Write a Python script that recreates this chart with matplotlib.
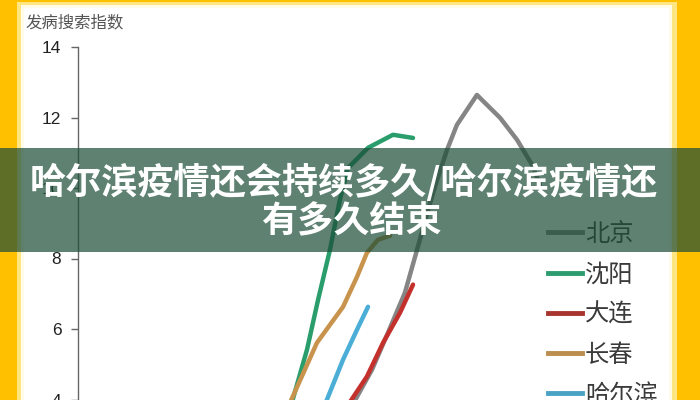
import matplotlib
matplotlib.use("Agg")
import matplotlib.pyplot as plt
from matplotlib.patches import Rectangle
from matplotlib.lines import Line2D

plt.rcParams['font.family'] = ['Noto Sans CJK SC', 'DejaVu Sans']

# ---- data (x = day index, y = search index) ----
cities = ['北京', '沈阳', '大连', '长春', '哈尔滨']
colors = ['#858585', '#2a9d6c', '#c4302c', '#c8934c', '#4aaed6']
legend_colors = ['#858585', '#2e9c6e', '#a8342e', '#bb8d4e', '#4aa3c4']

bj_x = [12.09, 13.07, 13.78, 14.53, 15.07, 15.56, 15.96, 16.40, 16.84, 17.73, 18.76, 19.51, 20.18, 20.53]
bj_y = [3.72, 4.85, 5.90, 7.03, 8.25, 9.38, 10.23, 11.08, 11.79, 12.64, 11.99, 11.37, 10.66, 10.09]

sy_x = [9.42, 10.18, 10.67, 11.20, 11.64, 12.00, 12.89, 14.00, 14.89]
sy_y = [3.72, 5.42, 6.83, 8.25, 9.67, 10.57, 11.14, 11.51, 11.42]

dl_x = [11.87, 12.84, 13.56, 14.31, 14.89]
dl_y = [3.72, 4.65, 5.61, 6.46, 7.26]

cc_x = [9.29, 10.62, 11.78, 12.40, 12.84, 13.33, 13.87]
cc_y = [3.72, 5.61, 6.63, 7.48, 8.16, 8.53, 8.65]

heb_x = [10.89, 11.78, 12.40, 12.89]
heb_y = [3.72, 5.13, 5.98, 6.63]

series_x = [bj_x, sy_x, dl_x, cc_x, heb_x]
series_y = [bj_y, sy_y, dl_y, cc_y, heb_y]

y_ticks = [4, 6, 8, 10, 12, 14]
y_label = '发病搜索指数'
title_lines = ['哈尔滨疫情还会持续多久/哈尔滨疫情还', '有多久结束']

W, H = 700, 400
fig = plt.figure(figsize=(7, 4), dpi=100, facecolor='#ffc000')

# white card inside the yellow frame
fig.patches.append(Rectangle((17 / W, 0), (677 - 17) / W, 1 - 2 / H, transform=fig.transFigure,
                             facecolor='#ffe680', edgecolor='none', zorder=-2))
fig.patches.append(Rectangle((21 / W, 0), (672 - 21) / W, 1 - 5 / H, transform=fig.transFigure,
                             facecolor='#fffbe8', edgecolor='none', zorder=-2))
fig.patches.append(Rectangle((24 / W, 0), (669 - 24) / W, 1 - 8 / H, transform=fig.transFigure,
                             facecolor='white', edgecolor='none', zorder=-2))

ax_left, ax_right = 78, 674.25
ax_top, ax_bottom = 47, 470
ax = fig.add_axes([ax_left / W, 1 - ax_bottom / H, (ax_right - ax_left) / W, (ax_bottom - ax_top) / H])
ax.set_facecolor('none')
ax.set_xlim(0, 26.5)
ax.set_ylim(2, 14)

for xs, ys, c in zip(series_x, series_y, colors):
    ax.plot(xs, ys, color=c, lw=3.2, solid_capstyle='round', solid_joinstyle='round', zorder=2)

for s in ['top', 'right', 'bottom']:
    ax.spines[s].set_visible(False)
ax.spines['left'].set_color('#666666')
ax.spines['left'].set_linewidth(1.0)
ax.set_xticks([])
ax.set_yticks(y_ticks)
ax.set_yticklabels([str(t) for t in y_ticks])
ax.tick_params(axis='y', length=5, width=1, color='#666666', pad=7, labelsize=12.5, labelcolor='#222222')
for lbl in ax.get_yticklabels():
    lbl.set_family(['Liberation Sans', 'DejaVu Sans'])

handles = [Line2D([0], [0], color=c, lw=3.5) for c in legend_colors]
leg = ax.legend(handles, cities, loc='upper left', bbox_to_anchor=(548 / W, 1 - 221 / H),
                bbox_transform=fig.transFigure, frameon=False, borderpad=0, borderaxespad=0,
                handlelength=1.4, handletextpad=0.12, labelspacing=0.585,
                prop={'family': ['Noto Sans CJK SC', 'DejaVu Sans'], 'size': 17.5, 'weight': 'light'})
for t in leg.get_texts():
    t.set_color('#3a3a3a')

fig.text(25 / W, 1 - 23 / H, y_label, fontsize=11.8, color='#555555', ha='left', va='center')

# banner overlay
fig.patches.append(Rectangle((0, 1 - 252 / H), 1, (252 - 148) / H, transform=fig.transFigure,
                             facecolor=(28 / 255, 77 / 255, 56 / 255), alpha=0.71, edgecolor='none', zorder=5))
fig.text(344 / W, 1 - 183 / H, title_lines[0], fontsize=26, fontweight='heavy', color='white',
         ha='center', va='center', zorder=6)
fig.text(351 / W, 1 - 222 / H, title_lines[1], fontsize=26, fontweight='heavy', color='white',
         ha='center', va='center', zorder=6)

fig.savefig('out.png', dpi=100, facecolor=fig.get_facecolor())
